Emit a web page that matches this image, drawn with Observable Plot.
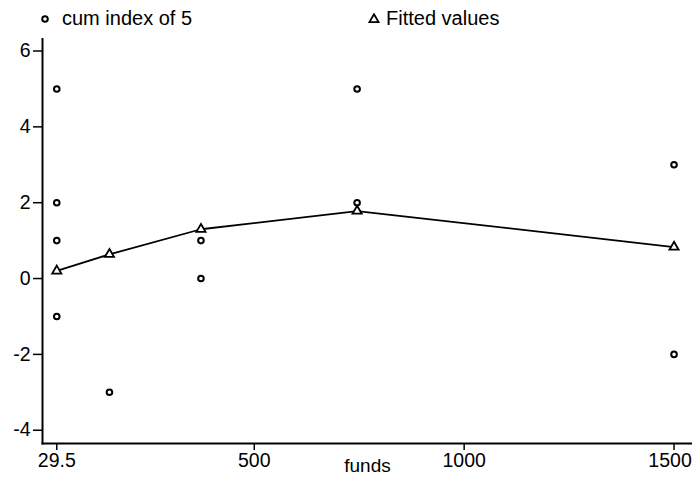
<!DOCTYPE html>
<html>
<head>
<meta charset="utf-8">
<script src="https://cdn.jsdelivr.net/npm/d3@7"></script>
<script src="https://cdn.jsdelivr.net/npm/@observablehq/plot@0.6"></script>
<style>
  html, body { margin: 0; padding: 0; background: white; overflow: hidden; }
  #legend { position: relative; width: 692px; height: 38px; font-family: "Liberation Sans", Arial, Helvetica, sans-serif; font-size: 20px; color: black; }
  #legend span { position: absolute; top: 8px; line-height: 20px; white-space: nowrap; }
  #legend svg { position: absolute; }
</style>
</head>
<body>
<div id="legend">
  <svg style="left:39px;top:13px" width="12" height="12"><circle cx="6" cy="6" r="2.8" fill="white" stroke="black" stroke-width="2"></circle></svg>
  <span id="lab1" style="left:62px"></span>
  <svg style="left:368px;top:13px" width="12" height="12"><path id="tri" fill="white" stroke="black" stroke-width="1.8"></path></svg>
  <span id="lab2" style="left:386px"></span>
</div>
<div id="chart"></div>
<script>
// ---- data ----
const seriesNames = ["cum index of 5", "Fitted values"];
const funds = [29.5, 29.5, 29.5, 29.5, 155, 373, 373, 745, 745, 1500, 1500];
const cumIndex = [5, 2, 1, -1, -3, 1, 0, 5, 2, 3, -2];
const fitFunds = [29.5, 155, 373, 745, 1500];
const fitted = [0.2, 0.64, 1.3, 1.78, 0.83];
const xTicks = [29.5, 500, 1000, 1500];
const yTicks = [-4, -2, 0, 2, 4, 6];
const xLabel = "funds";

const scatter = funds.map((f, i) => ({funds: f, value: cumIndex[i]}));
const fit = fitFunds.map((f, i) => ({funds: f, value: fitted[i]}));

document.getElementById("lab1").textContent = seriesNames[0];
document.getElementById("lab2").textContent = seriesNames[1];
const triR = 3.4;
document.getElementById("tri").setAttribute("d", d3.symbol(d3.symbolTriangle, triR * triR * Math.PI)());
document.getElementById("tri").setAttribute("transform", "translate(6,6.5)");

const font = "'Liberation Sans', Arial, Helvetica, sans-serif";
const lastTick = xTicks[xTicks.length - 1];
const chart = Plot.plot({
  width: 692,
  height: 442,
  marginLeft: 42,
  marginRight: 0,
  marginTop: 0,
  marginBottom: 37,
  style: {fontFamily: font, fontSize: "19.5px", color: "black", background: "white"},
  x: {domain: [-4.5, 1544]},
  y: {domain: [-4.35, 6.33]},
  marks: [
    Plot.axisX({ticks: xTicks, tickSize: 7, text: null, label: null, strokeWidth: 1.5}),
    Plot.axisX({ticks: xTicks.filter(t => t !== lastTick), tickSize: 0, tickPadding: 10, tickFormat: d => String(d), label: null}),
    Plot.axisX({ticks: [lastTick], tickSize: 0, tickPadding: 10, dx: -4, tickFormat: d => String(d), label: null}),
    Plot.axisY({ticks: yTicks, tickSize: 9, tickPadding: 3, tickFormat: d => String(d), label: null, strokeWidth: 1.5}),
    Plot.frame({anchor: "left", stroke: "black", strokeWidth: 2}),
    Plot.frame({anchor: "bottom", stroke: "black", strokeWidth: 2}),
    Plot.line(fit, {x: "funds", y: "value", stroke: "black", strokeWidth: 1.8}),
    Plot.dot(scatter, {x: "funds", y: "value", r: 2.8, stroke: "black", strokeWidth: 2, fill: "white"}),
    Plot.dot(fit, {x: "funds", y: "value", symbol: "triangle", r: triR, stroke: "black", strokeWidth: 1.8, fill: "white"}),
    Plot.text([xLabel], {text: d => d, frameAnchor: "bottom", dy: 15, lineAnchor: "top", fill: "black", fontSize: 19})
  ]
});
document.getElementById("chart").appendChild(chart);
</script>
</body>
</html>
